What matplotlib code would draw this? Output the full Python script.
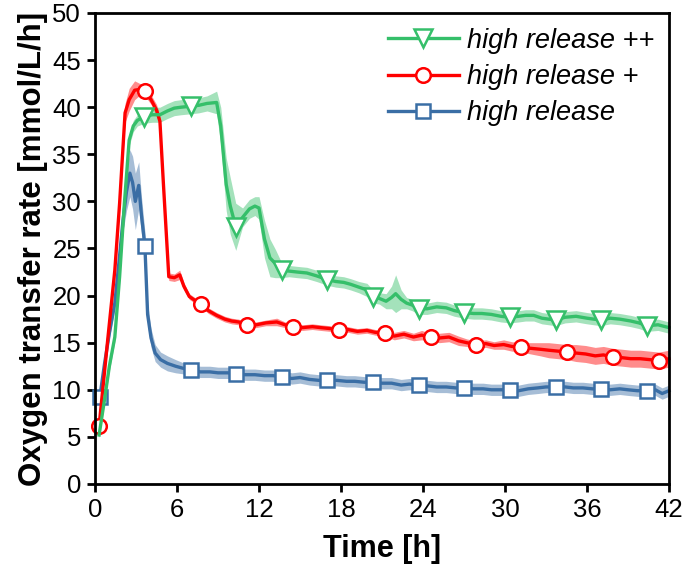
import numpy as np
import matplotlib.pyplot as plt
from matplotlib.lines import Line2D

plt.rcParams['font.family'] = ['Liberation Sans', 'DejaVu Sans']

# high release ++ (green)
t_pp = [0.3, 0.7, 1.05, 1.45, 1.8, 2.15, 2.5, 2.8, 3.1, 3.6, 4.2, 4.75, 5.3, 5.8, 6.3, 7.0,
        7.6, 8.2, 8.9, 9.2, 9.6, 9.9, 10.3, 10.8, 11.3, 11.7, 12.0, 12.4, 12.8, 13.2, 13.65,
        14.2, 14.8, 15.5, 16.2, 17.0, 17.6, 18.2, 18.7, 19.3, 19.9, 20.35, 20.8, 21.3, 21.7,
        22.0, 22.4, 22.8, 23.2, 23.7, 24.3, 25.0, 25.7, 26.3, 27.0, 27.7, 28.3, 29.0, 29.7,
        30.35, 31.0, 31.5, 32.1, 32.7, 33.7, 34.4, 35.2, 36.0, 37.0, 37.7, 38.4, 39.2, 39.8,
        40.4, 41.2, 42.0]
otr_pp = [5.2, 9.0, 12.5, 15.6, 22.0, 29.8, 36.5, 38.0, 38.6, 39.0, 39.2, 39.2, 39.6, 39.9, 40.0, 40.1,
          40.2, 40.4, 40.5, 38.0, 31.8, 29.5, 27.3, 28.3, 29.2, 29.5, 29.3, 26.0, 24.0, 23.4, 22.7,
          22.6, 22.5, 22.4, 22.1, 21.7, 21.5, 21.4, 21.2, 20.9, 20.6, 19.9, 19.7, 19.4, 19.8,
          20.2, 19.6, 19.2, 19.0, 18.6, 18.6, 18.8, 18.7, 18.4, 18.2, 18.1, 18.1, 18.0, 17.8,
          17.7, 17.8, 17.9, 17.9, 17.6, 17.4, 17.7, 17.8, 17.6, 17.4, 17.6, 17.5, 17.3, 17.1,
          16.8, 16.9, 16.6]
sd_pp = [0.3, 0.4, 0.5, 0.5, 0.6, 0.6, 0.6, 0.6, 0.6, 0.7, 0.8, 0.8, 0.8, 0.8, 0.8, 0.8,
         0.8, 0.8, 1.2, 2.0, 2.8, 3.0, 2.5, 1.0, 1.0, 1.0, 1.2, 2.0, 2.0, 1.5, 0.8,
         0.6, 0.6, 0.6, 0.6, 0.6, 0.6, 0.6, 0.6, 0.6, 0.7, 0.7, 0.6, 0.8, 1.2,
         2.0, 1.0, 0.6, 0.6, 0.6, 0.6, 0.6, 0.6, 0.6, 0.6, 0.6, 0.6, 0.6, 0.6,
         0.6, 0.6, 0.6, 0.6, 0.6, 0.6, 0.6, 0.6, 0.6, 0.6, 0.6, 0.6, 0.6, 0.6,
         0.6, 0.6, 0.6]
mk_pp = [3.6, 7.0, 10.3, 13.65, 17.0, 20.35, 23.7, 27.0, 30.35, 33.7, 37.0, 40.4]

# high release + (red)
t_p = [0.3, 0.6, 0.95, 1.45, 1.8, 2.2, 2.5, 2.9, 3.3, 3.65, 4.1, 4.5, 4.75, 5.0, 5.4, 5.8,
       6.2, 6.5, 6.9, 7.3, 7.75, 8.3, 8.9, 9.5, 10.0, 10.5, 11.1, 11.8, 12.5, 13.3, 13.9,
       14.5, 15.2, 15.9, 16.5, 17.2, 17.85, 18.5, 19.2, 19.9, 20.5, 21.2, 21.9, 22.6, 23.3,
       23.9, 24.55, 25.2, 25.9, 26.6, 27.2, 27.9, 28.6, 29.2, 29.9, 30.5, 31.2, 31.9, 32.6,
       33.2, 33.9, 34.55, 35.2, 35.9, 36.6, 37.2, 37.9, 38.6, 39.2, 39.9, 40.6, 41.25, 42.0]
otr_p = [6.2, 10.5, 15.6, 22.7, 29.8, 39.4, 40.8, 41.8, 41.9, 41.7, 40.8, 39.7, 38.5, 32.0, 22.0, 21.9,
         22.2, 21.0, 19.9, 19.5, 19.1, 18.4, 17.9, 17.5, 17.3, 17.2, 16.9, 16.9, 17.1, 17.2, 16.9,
         16.7, 16.6, 16.7, 16.6, 16.5, 16.3, 16.4, 16.2, 16.3, 16.1, 16.0, 15.7, 15.9, 15.6,
         15.8, 15.6, 15.5, 15.6, 15.2, 15.0, 14.8, 14.9, 14.7, 14.8, 14.6, 14.5, 14.4, 14.3,
         14.2, 14.1, 14.0, 13.9, 13.8, 13.6, 13.7, 13.5, 13.4, 13.3, 13.3, 13.2, 13.1, 13.3]
sd_p = [0.3, 0.4, 0.5, 0.6, 0.8, 1.0, 1.2, 1.0, 0.6, 0.5, 0.5, 0.6, 0.6, 0.5, 0.4, 0.4,
        0.5, 0.4, 0.3, 0.3, 0.3, 0.3, 0.3, 0.3, 0.3, 0.3, 0.3, 0.3, 0.3, 0.4, 0.3,
        0.3, 0.3, 0.3, 0.3, 0.3, 0.3, 0.3, 0.3, 0.3, 0.3, 0.3, 0.4, 0.4, 0.4,
        0.5, 0.4, 0.5, 0.5, 0.5, 0.4, 0.4, 0.4, 0.4, 0.5, 0.5, 0.5, 0.6, 0.7,
        0.8, 0.8, 0.8, 0.9, 0.9, 0.9, 0.9, 0.9, 0.9, 0.9, 0.9, 0.9, 0.9, 0.9]
mk_p = [0.3, 3.65, 7.75, 11.1, 14.5, 17.85, 21.2, 24.55, 27.9, 31.2, 34.55, 37.9, 41.25]

# high release (blue)
t_h = [0.35, 0.7, 1.05, 1.45, 1.75, 2.05, 2.3, 2.55, 2.75, 2.95, 3.2, 3.4, 3.65, 3.85, 4.1, 4.4,
       4.8, 5.3, 5.9, 6.4, 7.0, 7.7, 8.4, 9.0, 9.7, 10.35, 11.0, 11.7, 12.4, 13.0, 13.7,
       14.4, 15.0, 15.7, 16.4, 17.0, 17.7, 18.4, 19.0, 19.7, 20.35, 21.0, 21.7, 22.4, 23.0,
       23.7, 24.4, 25.0, 25.7, 26.4, 27.0, 27.7, 28.4, 29.0, 29.7, 30.4, 31.0, 31.7, 32.4,
       33.0, 33.7, 34.4, 35.0, 35.7, 36.4, 37.0, 37.7, 38.4, 39.0, 39.7, 40.4, 41.0, 41.5, 42.0]
otr_h = [9.2, 12.8, 16.0, 19.2, 23.5, 28.0, 31.0, 33.0, 32.0, 30.0, 31.7, 28.5, 25.3, 18.0, 15.5, 13.9,
         13.2, 12.8, 12.5, 12.3, 12.1, 11.9, 11.9, 11.8, 11.8, 11.7, 11.6, 11.6, 11.5, 11.5, 11.4,
         11.2, 11.3, 11.1, 11.0, 11.0, 11.0, 10.9, 10.9, 10.8, 10.8, 10.7, 10.7, 10.5, 10.6,
         10.5, 10.4, 10.3, 10.3, 10.2, 10.2, 10.1, 10.1, 10.0, 10.0, 10.0, 9.9, 10.1, 10.2,
         10.3, 10.3, 10.3, 10.2, 10.2, 10.1, 10.1, 10.0, 10.1, 10.0, 9.9, 9.9, 10.0, 9.6, 9.9]
sd_h = [0.3, 0.4, 0.5, 0.6, 0.8, 1.2, 2.0, 2.5, 2.8, 3.0, 2.5, 2.0, 1.5, 1.2, 1.0, 0.9,
        0.8, 0.8, 0.7, 0.6, 0.6, 0.6, 0.6, 0.6, 0.6, 0.6, 0.6, 0.6, 0.6, 0.6, 0.6,
        0.6, 0.6, 0.6, 0.6, 0.6, 0.6, 0.6, 0.6, 0.6, 0.6, 0.6, 0.6, 0.6, 0.6,
        0.6, 0.6, 0.6, 0.6, 0.6, 0.6, 0.6, 0.6, 0.6, 0.6, 0.6, 0.6, 0.6, 0.6,
        0.6, 0.6, 0.6, 0.6, 0.6, 0.6, 0.6, 0.6, 0.6, 0.6, 0.6, 0.6, 0.6, 0.6, 0.6]
mk_h = [0.35, 3.65, 7.0, 10.35, 13.7, 17.0, 20.35, 23.7, 27.0, 30.4, 33.7, 37.0, 40.4]

series = [
    (t_pp, otr_pp, sd_pp, mk_pp, '#35bf6a', 'v', 13, 'high release ++'),
    (t_p, otr_p, sd_p, mk_p, '#ff0000', 'o', 10.5, 'high release +'),
    (t_h, otr_h, sd_h, mk_h, '#3a6ea5', 's', 10, 'high release'),
]

fig = plt.figure(figsize=(6.85, 5.75), dpi=100)
ax = fig.add_axes([0.1387, 0.1583, 0.8379, 0.8191])

handles = []
for t, y, sd, mk, c, m, ms, lab in series[::-1]:
    t = np.array(t)
    y = np.array(y)
    sd = np.array(sd)
    ax.fill_between(t, y - sd, y + sd, color=c, alpha=0.45, lw=0)
    idx = list(np.where(np.isin(t, mk))[0])
    ax.plot(t, y, '-', color=c, lw=2.4, marker=m, ms=ms, mfc='white', mec=c, mew=1.8,
            markevery=idx, clip_on=False)
for t, y, sd, mk, c, m, ms, lab in series:
    handles.append(Line2D([], [], color=c, lw=2.4, marker=m, ms=ms, mfc='white', mec=c,
                          mew=1.8, label=lab))

ax.set_xlim(0, 42)
ax.set_ylim(0, 50)
ax.set_xticks(np.arange(0, 43, 6))
ax.set_yticks(np.arange(0, 51, 5))
for s in ax.spines.values():
    s.set_linewidth(2)
    s.set_zorder(5)
ax.tick_params(direction='out', length=6, width=2, labelsize=18.5, pad=4)
ax.set_xlabel('Time [h]', fontsize=22, fontweight='bold', labelpad=9)
ax.set_ylabel('Oxygen transfer rate [mmol/L/h]', fontsize=22.5, fontweight='bold', labelpad=3)

leg = ax.legend(handles=handles, loc='upper right', frameon=False,
                labelspacing=0.38, handlelength=2.6, handletextpad=0.3,
                borderaxespad=0.15, prop={'style': 'italic', 'size': 19.5})

fig.savefig('out.png', dpi=100)
